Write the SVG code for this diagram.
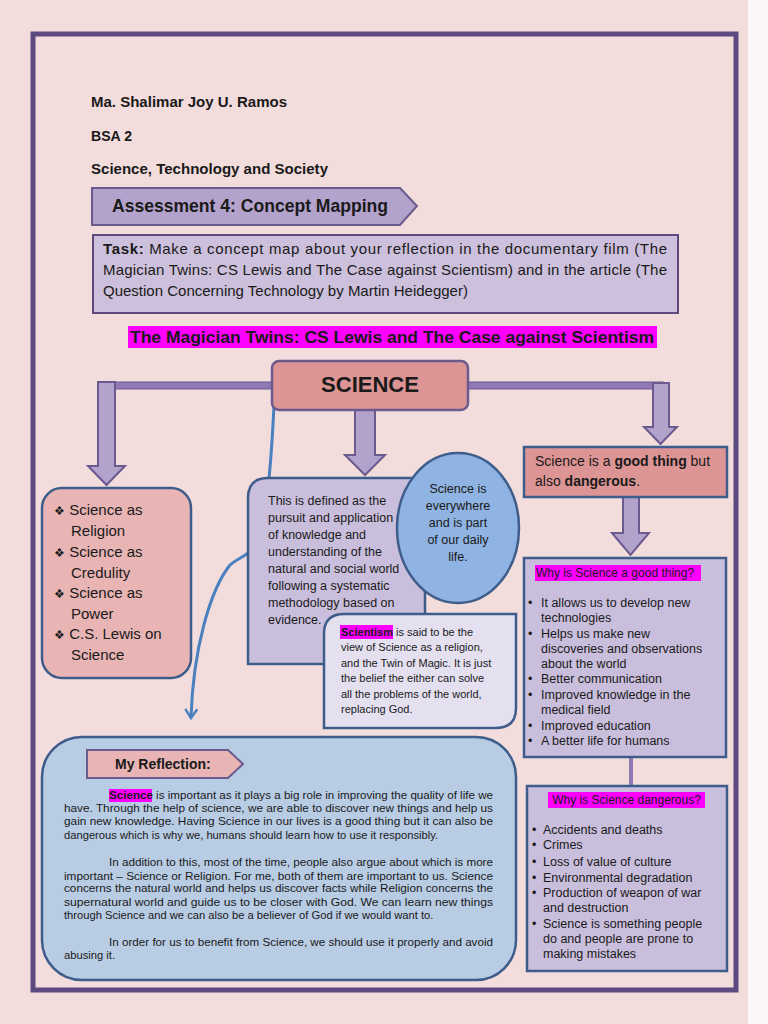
<svg xmlns="http://www.w3.org/2000/svg" width="768" height="1024" viewBox="0 0 768 1024">
<defs>
<style>
text{font-family:"Liberation Sans",Arial,sans-serif;fill:#1a1a1a}
.b{font-weight:bold}
.blk{fill:#b3a2cb;stroke:#6b5a8e;stroke-width:2}
.bar{fill:#9079b4;stroke:#6b5a8e;stroke-width:1}
.box{stroke:#3e5d8a;stroke-width:2.5}
.hl{fill:#ff00ff}
.t12{font-size:12.5px}
.t11{font-size:11px}
.r{font-size:11.2px}
</style>
<marker id="chev" viewBox="0 0 12 14" refX="10" refY="7" markerWidth="12" markerHeight="14" markerUnits="userSpaceOnUse" orient="auto">
<path d="M1,1 L10,7 L1,13" fill="none" stroke="#4a7fc0" stroke-width="2.5"/>
</marker>
</defs>
<rect x="0" y="0" width="768" height="1024" fill="#f2dcdc"/>
<rect x="748" y="0" width="20" height="1024" fill="#fbf5f5"/>
<rect x="33" y="34" width="703" height="956" fill="#f2dcdc" stroke="#5c4a80" stroke-width="5"/>

<g id="header">
<text x="91" y="107" class="b" font-size="15" textLength="196" lengthAdjust="spacingAndGlyphs">Ma. Shalimar Joy U. Ramos</text>
<text x="91" y="141" class="b" font-size="15" textLength="41" lengthAdjust="spacingAndGlyphs">BSA 2</text>
<text x="91" y="174" class="b" font-size="15" textLength="237" lengthAdjust="spacingAndGlyphs">Science, Technology and Society</text>
</g>

<g id="assessment">
<path d="M92,188 L400,188 L417,206 L400,225 L92,225 Z" class="blk"/>
<text x="112" y="212" class="b" font-size="17.5" textLength="276" lengthAdjust="spacingAndGlyphs">Assessment 4: Concept Mapping</text>
</g>

<g id="task">
<rect x="93" y="235" width="585" height="78" fill="#ccc0dc" stroke="#5e4a7e" stroke-width="2"/>
<text x="103" y="254" font-size="15" textLength="564" lengthAdjust="spacing"><tspan class="b">Task:</tspan> Make a concept map about your reflection in the documentary film (The</text>
<text x="103" y="275" font-size="15" textLength="564" lengthAdjust="spacing">Magician Twins: CS Lewis and The Case against Scientism) and in the article (The</text>
<text x="103" y="296" font-size="15">Question Concerning Technology by Martin Heidegger)</text>
</g>

<g id="title">
<rect x="128" y="326" width="529" height="22" class="hl"/>
<text x="392" y="343" class="b" font-size="17" text-anchor="middle" textLength="524" lengthAdjust="spacingAndGlyphs">The Magician Twins: CS Lewis and The Case against Scientism</text>
</g>

<g id="connectors">
<rect x="98" y="382" width="175" height="7" class="bar"/>
<rect x="467" y="382" width="196" height="7" class="bar"/>
<path d="M98,382 L115,382 L115,466 L125,466 L106.5,485 L88,466 L98,466 Z" class="blk"/>
<path d="M355,410 L375,410 L375,455 L385,455 L365,475 L345,455 L355,455 Z" class="blk"/>
<path d="M653,383 L669,383 L669,427 L677,427 L660.5,444 L644,427 L653,427 Z" class="blk"/>
<path d="M623,497 L639,497 L639,533 L649,533 L630.5,555 L612,533 L623,533 Z" class="blk"/>
<line x1="631" y1="757" x2="631" y2="786" stroke="#9079b4" stroke-width="4"/>
<path d="M274,406 C272,440 270,500 258,538 C252,556 240,556 230,565 C210,590 193,650 191,718" fill="none" stroke="#4a7fc0" stroke-width="3" marker-end="url(#chev)"/>
</g>

<g id="science">
<rect x="272" y="361" width="196" height="49" rx="7" fill="#dc9494" stroke="#6b5a8e" stroke-width="2.5"/>
<text x="370" y="392" class="b" font-size="22" text-anchor="middle">SCIENCE</text>
</g>

<g id="views">
<rect x="42" y="488" width="149" height="190" rx="20" fill="#e8b4b4" class="box"/>
<g font-size="15">
<text x="54" y="515"><tspan font-size="12">❖</tspan> Science as</text>
<text x="71" y="536">Religion</text>
<text x="54" y="557"><tspan font-size="12">❖</tspan> Science as</text>
<text x="71" y="578">Credulity</text>
<text x="54" y="598"><tspan font-size="12">❖</tspan> Science as</text>
<text x="71" y="619">Power</text>
<text x="54" y="639"><tspan font-size="12">❖</tspan> C.S. Lewis on</text>
<text x="71" y="660">Science</text>
</g>
</g>

<g id="definition">
<path d="M268,478 L425,478 L425,664 L248,664 L248,498 Q248,478 268,478 Z" fill="#c9bedc" class="box"/>
<g class="t12">
<text x="268" y="505">This is defined as the</text>
<text x="268" y="522">pursuit and application</text>
<text x="268" y="539">of knowledge and</text>
<text x="268" y="556">understanding of the</text>
<text x="268" y="573">natural and social world</text>
<text x="268" y="590">following a systematic</text>
<text x="268" y="607">methodology based on</text>
<text x="268" y="624">evidence.</text>
</g>
</g>

<g id="everywhere">
<ellipse cx="458" cy="528" rx="61" ry="75" fill="#8fb3e2" class="box"/>
<g class="t12" text-anchor="middle">
<text x="458" y="493">Science is</text>
<text x="458" y="510">everywhere</text>
<text x="458" y="527">and is part</text>
<text x="458" y="544">of our daily</text>
<text x="458" y="561">life.</text>
</g>
</g>

<g id="scientism">
<path d="M344,614 L516,614 L516,708 Q516,728 496,728 L324,728 L324,634 Q324,614 344,614 Z" fill="#e4e0f0" class="box"/>
<rect x="340" y="625" width="53" height="14" class="hl"/>
<g class="t11">
<text x="341" y="636"><tspan class="b">Scientism</tspan> is said to be the</text>
<text x="341" y="651">view of Science as a religion,</text>
<text x="341" y="667">and the Twin of Magic. It is just</text>
<text x="341" y="682">the belief the either can solve</text>
<text x="341" y="698">all the problems of the world,</text>
<text x="341" y="713">replacing God.</text>
</g>
</g>

<g id="goodbad">
<rect x="524" y="447" width="203" height="50" fill="#dc9494" class="box"/>
<text x="535" y="466" font-size="14">Science is a <tspan class="b">good thing</tspan> but</text>
<text x="535" y="486" font-size="14">also <tspan class="b">dangerous</tspan>.</text>
</g>

<g id="good">
<rect x="524" y="558" width="202" height="199" fill="#c9bedc" class="box"/>
<rect x="535" y="565" width="166" height="16" class="hl"/>
<text x="536" y="577" font-size="12">Why is Science a good thing?</text>
<g class="t12">
<text x="528" y="607">•</text><text x="541" y="607">It allows us to develop new</text>
<text x="541" y="622">technologies</text>
<text x="528" y="638">•</text><text x="541" y="638">Helps us make new</text>
<text x="541" y="653">discoveries and observations</text>
<text x="541" y="668">about the world</text>
<text x="528" y="683">•</text><text x="541" y="683">Better communication</text>
<text x="528" y="699">•</text><text x="541" y="699">Improved knowledge in the</text>
<text x="541" y="714">medical field</text>
<text x="528" y="730">•</text><text x="541" y="730">Improved education</text>
<text x="528" y="745">•</text><text x="541" y="745">A better life for humans</text>
</g>
</g>

<g id="dangerous">
<rect x="527" y="786" width="200" height="185" fill="#c9bedc" class="box"/>
<rect x="548" y="792" width="157" height="16" class="hl"/>
<text x="626.5" y="804" font-size="12" text-anchor="middle">Why is Science dangerous?</text>
<g class="t12">
<text x="532" y="834">•</text><text x="543" y="834">Accidents and deaths</text>
<text x="532" y="849">•</text><text x="543" y="849">Crimes</text>
<text x="532" y="866">•</text><text x="543" y="866">Loss of value of culture</text>
<text x="532" y="882">•</text><text x="543" y="882">Environmental degradation</text>
<text x="532" y="897">•</text><text x="543" y="897">Production of weapon of war</text>
<text x="543" y="912">and destruction</text>
<text x="532" y="928">•</text><text x="543" y="928">Science is something people</text>
<text x="543" y="943">do and people are prone to</text>
<text x="543" y="958">making mistakes</text>
</g>
</g>

<g id="reflection">
<rect x="42" y="737" width="474" height="243" rx="40" fill="#b8cce4" class="box"/>
<path d="M87,750 L228,750 L243,764 L228,778 L87,778 Z" fill="#e8b4b4" stroke="#6b5a8e" stroke-width="2"/>
<text x="115" y="769" class="b" font-size="14">My Reflection:</text>
<rect x="109" y="789" width="43" height="13" class="hl"/>
<g class="r">
<text x="109" y="799" textLength="384" lengthAdjust="spacingAndGlyphs"><tspan class="b">Science</tspan> is important as it plays a big role in improving the quality of life we</text>
<text x="64" y="812" textLength="429" lengthAdjust="spacingAndGlyphs">have. Through the help of science, we are able to discover new things and help us</text>
<text x="64" y="825" textLength="429" lengthAdjust="spacingAndGlyphs">gain new knowledge. Having Science in our lives is a good thing but it can also be</text>
<text x="64" y="839">dangerous which is why we, humans should learn how to use it responsibly.</text>
<text x="109" y="866" textLength="384" lengthAdjust="spacingAndGlyphs">In addition to this, most of the time, people also argue about which is more</text>
<text x="64" y="880" textLength="429" lengthAdjust="spacingAndGlyphs">important – Science or Religion. For me, both of them are important to us. Science</text>
<text x="64" y="892" textLength="429" lengthAdjust="spacingAndGlyphs">concerns the natural world and helps us discover facts while Religion concerns the</text>
<text x="64" y="906" textLength="429" lengthAdjust="spacingAndGlyphs">supernatural world and guide us to be closer with God. We can learn new things</text>
<text x="64" y="919">through Science and we can also be a believer of God if we would want to.</text>
<text x="109" y="946" textLength="384" lengthAdjust="spacingAndGlyphs">In order for us to benefit from Science, we should use it properly and avoid</text>
<text x="64" y="959">abusing it.</text>
</g>
</g>
</svg>
